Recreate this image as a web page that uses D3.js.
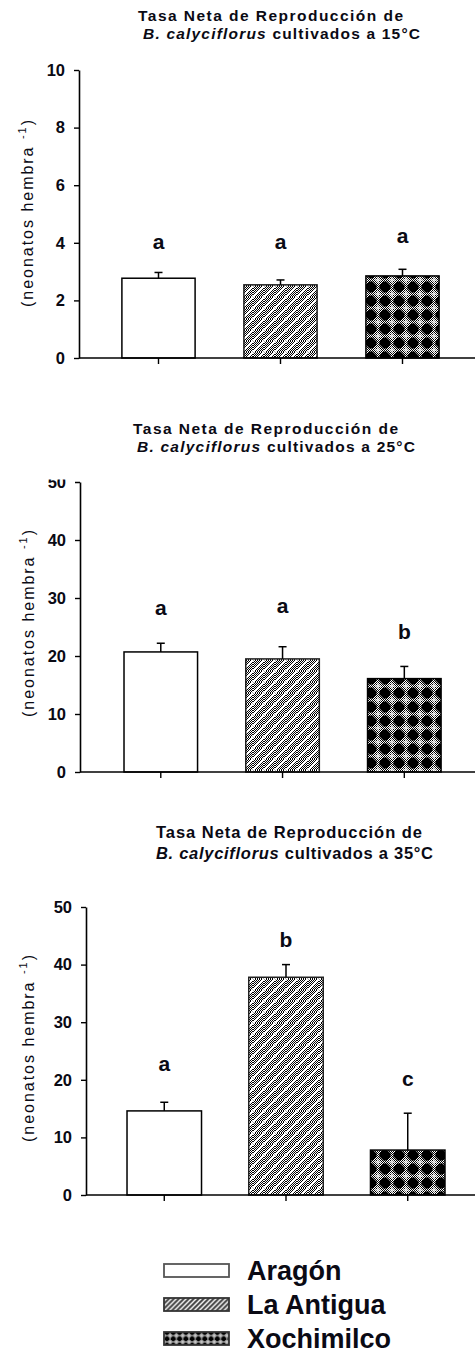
<!DOCTYPE html>
<html>
<head>
<meta charset="utf-8">
<script src="https://cdn.jsdelivr.net/npm/d3@7"></script>
<style>
  html, body { margin: 0; padding: 0; background: #fff; }
  svg { display: block; font-family: "Liberation Sans", Arial, sans-serif; }
</style>
</head>
<body>
<svg id="chart" width="475" height="1355"></svg>
<script>
// Net reproduction rate of B. calyciflorus, three strains, three temperatures
const categories = ["Aragón", "La Antigua", "Xochimilco"];
const temperatures = ["15°C", "25°C", "35°C"];

const mean15 = [2.77, 2.54, 2.85];
const se15 = [0.20, 0.17, 0.23];
const groups15 = ["a", "a", "a"];
const groupLabelAt15 = [3.8, 3.8, 4.0];
const yTicks15 = [0, 2, 4, 6, 8, 10];

const mean25 = [20.7, 19.5, 16.1];
const se25 = [1.5, 2.1, 2.1];
const groups25 = ["a", "a", "b"];
const groupLabelAt25 = [27.0, 27.4, 22.9];
const yTicks25 = [0, 10, 20, 30, 40, 50];

const mean35 = [14.6, 37.8, 7.8];
const se35 = [1.5, 2.2, 6.4];
const groups35 = ["a", "b", "c"];
const groupLabelAt35 = [21.5, 43.0, 19.0];
const yTicks35 = [0, 10, 20, 30, 40, 50];

const titleLine1 = "Tasa Neta de Reproducción de";
const species = "B. calyciflorus";
const yLabel = "(neonatos hembra";

// panel geometry
const panels = [
  { mean: mean15, se: se15, groups: groups15, groupAt: groupLabelAt15, ticks: yTicks15, temp: temperatures[0],
    axisX: 79, top: 70, bottom: 358, xStart: 97.5, xEnd: 463.5, pad: 0.40,
    t1: { x: 138, y: 21, w: 265 }, t2: { x: 143, y: 39, w: 277 }, fs: 15.5,
    lab: { x: 33, y0: 307, y1: 120 }, clipTop: null },
  { mean: mean25, se: se25, groups: groups25, groupAt: groupLabelAt25, ticks: yTicks25, temp: temperatures[1],
    axisX: 80, top: 482, bottom: 772, xStart: 99.9, xEnd: 465.2, pad: 0.396,
    t1: { x: 133, y: 434, w: 265 }, t2: { x: 137, y: 452, w: 278 }, fs: 15.5,
    lab: { x: 34, y0: 717, y1: 530 }, clipTop: 479.5 },
  { mean: mean35, se: se35, groups: groups35, groupAt: groupLabelAt35, ticks: yTicks35, temp: temperatures[2],
    axisX: 86, top: 907, bottom: 1195, xStart: 103.4, xEnd: 468.6, pad: 0.388,
    t1: { x: 156, y: 838, w: 266 }, t2: { x: 156, y: 859, w: 277 }, fs: 16.5,
    lab: { x: 34, y0: 1142, y1: 955 }, clipTop: null }
];

const svg = d3.select("#chart");
const defs = svg.append("defs");

// fine 50% dither used as the grey ground of the hatched fills
const chk = defs.append("pattern").attr("id", "chk")
  .attr("width", 2).attr("height", 2).attr("patternUnits", "userSpaceOnUse");
chk.append("rect").attr("width", 2).attr("height", 2).attr("fill", "#fff");
chk.append("rect").attr("width", 1).attr("height", 1).attr("fill", "#000");
chk.append("rect").attr("x", 1).attr("y", 1).attr("width", 1).attr("height", 1).attr("fill", "#000");

function hatch(id, scale) {
  const s = 11;
  const p = defs.append("pattern").attr("id", id)
    .attr("width", s).attr("height", s).attr("patternUnits", "userSpaceOnUse")
    .attr("patternTransform", `scale(${scale})`);
  p.append("rect").attr("width", s).attr("height", s).attr("fill", scale < 1 ? "#444" : "url(#chk)");
  const segs = [[0, s, s, 0], [-2, 2, 2, -2], [s - 2, s + 2, s + 2, s - 2]];
  segs.forEach(d => p.append("line")
    .attr("x1", d[0]).attr("y1", d[1]).attr("x2", d[2]).attr("y2", d[3])
    .attr("stroke", "#fff").attr("stroke-width", scale < 1 ? 3 : 1.6));
}
function lattice(id, scale) {
  const s = 14;
  const p = defs.append("pattern").attr("id", id)
    .attr("width", s).attr("height", s).attr("patternUnits", "userSpaceOnUse")
    .attr("patternTransform", `scale(${scale})`);
  p.append("rect").attr("width", s).attr("height", s).attr("fill", scale < 1 ? "#9a9a9a" : "url(#chk)");
  p.append("polygon")
    .attr("points", "5.5,1.5 8.5,1.5 12.5,5.5 12.5,8.5 8.5,12.5 5.5,12.5 1.5,8.5 1.5,5.5")
    .attr("fill", "#000");
  // small white crosses on the grey nodes
  [[0, 0], [s, 0], [0, s], [s, s]].forEach(([cx, cy]) => {
    p.append("line").attr("x1", cx - 3).attr("x2", cx + 3).attr("y1", cy).attr("y2", cy)
      .attr("stroke", "#fff").attr("stroke-width", 1);
    p.append("line").attr("y1", cy - 3).attr("y2", cy + 3).attr("x1", cx).attr("x2", cx)
      .attr("stroke", "#fff").attr("stroke-width", 1);
  });
}
hatch("hatch", 1);
lattice("lattice", 1);
hatch("hatchSmall", 0.45);
lattice("latticeSmall", 0.45);

const fills = ["#fff", "url(#hatch)", "url(#lattice)"];
const strokes = ["#000", "#222", "#000"];

panels.forEach((P, pi) => {
  const g = svg.append("g");

  const x = d3.scaleBand().domain(categories)
    .range([P.xStart, P.xEnd]).paddingInner(P.pad).paddingOuter(P.pad / 2);
  const y = d3.scaleLinear().domain([0, d3.max(P.ticks)]).range([P.bottom, P.top]);

  const rows = categories.map((c, i) => ({ c, m: P.mean[i], e: P.se[i], g: P.groups[i], at: P.groupAt[i], i }));

  // title
  g.append("text").attr("x", P.t1.x).attr("y", P.t1.y)
    .attr("font-size", P.fs).attr("font-weight", "bold").attr("fill", "#0a0a14")
    .attr("textLength", P.t1.w).attr("lengthAdjust", "spacing")
    .text(titleLine1);
  const t2 = g.append("text").attr("x", P.t2.x).attr("y", P.t2.y)
    .attr("font-size", P.fs).attr("font-weight", "bold").attr("fill", "#0a0a14")
    .attr("textLength", P.t2.w).attr("lengthAdjust", "spacing");
  t2.append("tspan").attr("font-style", "italic").text(species);
  t2.append("tspan").text(" cultivados a " + P.temp);

  // y axis
  const yAxisG = g.append("g").attr("transform", `translate(${P.axisX},0)`)
    .call(d3.axisLeft(y).tickValues(P.ticks).tickFormat(d3.format("d"))
      .tickSize(5).tickSizeOuter(0).tickPadding(9));
  yAxisG.select(".domain").attr("stroke", "#000").attr("stroke-width", 1.6);
  yAxisG.selectAll(".tick line").attr("stroke", "#000").attr("stroke-width", 1.4);
  yAxisG.selectAll(".tick text").attr("font-size", 16.5).attr("font-weight", "bold")
    .attr("fill", "#0a0a14").attr("font-family", "Liberation Sans, Arial, sans-serif");
  if (P.clipTop !== null) {
    // the top label of this panel is trimmed along the panel's upper edge
    const cid = "clip" + pi;
    defs.append("clipPath").attr("id", cid).append("rect")
      .attr("x", -P.axisX).attr("y", P.clipTop)
      .attr("width", P.axisX + 2).attr("height", P.bottom - P.clipTop + 20);
    yAxisG.attr("clip-path", `url(#${cid})`);
  }

  // y label
  const lab = g.append("text")
    .attr("transform", `translate(${P.lab.x},${(P.lab.y0 + P.lab.y1) / 2}) rotate(-90)`)
    .attr("text-anchor", "middle").attr("font-size", 16).attr("fill", "#0a0a14")
    .attr("textLength", P.lab.y0 - P.lab.y1).attr("lengthAdjust", "spacing");
  lab.append("tspan").text(yLabel + " ");
  lab.append("tspan").attr("font-size", 11).attr("dy", -7).text("-1");
  lab.append("tspan").attr("dy", 7).text(")");

  // bars
  g.selectAll("rect.bar").data(rows).join("rect").attr("class", "bar")
    .attr("x", d => x(d.c)).attr("width", x.bandwidth())
    .attr("y", d => y(d.m)).attr("height", d => y(0) - y(d.m))
    .attr("fill", d => fills[d.i]).attr("stroke", d => strokes[d.i]).attr("stroke-width", 1.5);

  // error bars (upper)
  const cx = d => x(d.c) + x.bandwidth() / 2;
  g.selectAll("line.err").data(rows).join("line").attr("class", "err")
    .attr("x1", cx).attr("x2", cx).attr("y1", d => y(d.m)).attr("y2", d => y(d.m + d.e))
    .attr("stroke", "#000").attr("stroke-width", 1.5);
  g.selectAll("line.cap").data(rows).join("line").attr("class", "cap")
    .attr("x1", d => cx(d) - 4).attr("x2", d => cx(d) + 4)
    .attr("y1", d => y(d.m + d.e)).attr("y2", d => y(d.m + d.e))
    .attr("stroke", "#000").attr("stroke-width", 1.5);

  // x axis baseline and category ticks
  g.append("line").attr("x1", P.axisX).attr("x2", 475).attr("y1", y(0)).attr("y2", y(0))
    .attr("stroke", "#000").attr("stroke-width", 1.6);
  g.selectAll("line.xt").data(rows).join("line").attr("class", "xt")
    .attr("x1", cx).attr("x2", cx).attr("y1", y(0)).attr("y2", y(0) + 6)
    .attr("stroke", "#000").attr("stroke-width", 1.4);

  // significance letters
  g.selectAll("text.grp").data(rows).join("text").attr("class", "grp")
    .attr("x", cx).attr("y", d => y(d.at))
    .attr("text-anchor", "middle").attr("font-size", 21).attr("font-weight", "bold")
    .attr("fill", "#0a0a14").text(d => d.g);
});

// legend
const legend = svg.append("g");
const legendFills = ["#fff", "url(#hatchSmall)", "url(#latticeSmall)"];
const legendRow = d3.scalePoint().domain(categories).range([1280, 1348]);
categories.forEach((c, i) => {
  const base = legendRow(c);
  legend.append("rect").attr("x", 164).attr("y", base - 16).attr("width", 65).attr("height", 13)
    .attr("fill", legendFills[i]).attr("stroke", i === 0 ? "#555" : "#333").attr("stroke-width", 1.8);
  legend.append("text").attr("x", 247).attr("y", base)
    .attr("font-size", 27).attr("font-weight", "bold").attr("fill", "#0a0a14").text(c);
});
</script>
</body>
</html>
